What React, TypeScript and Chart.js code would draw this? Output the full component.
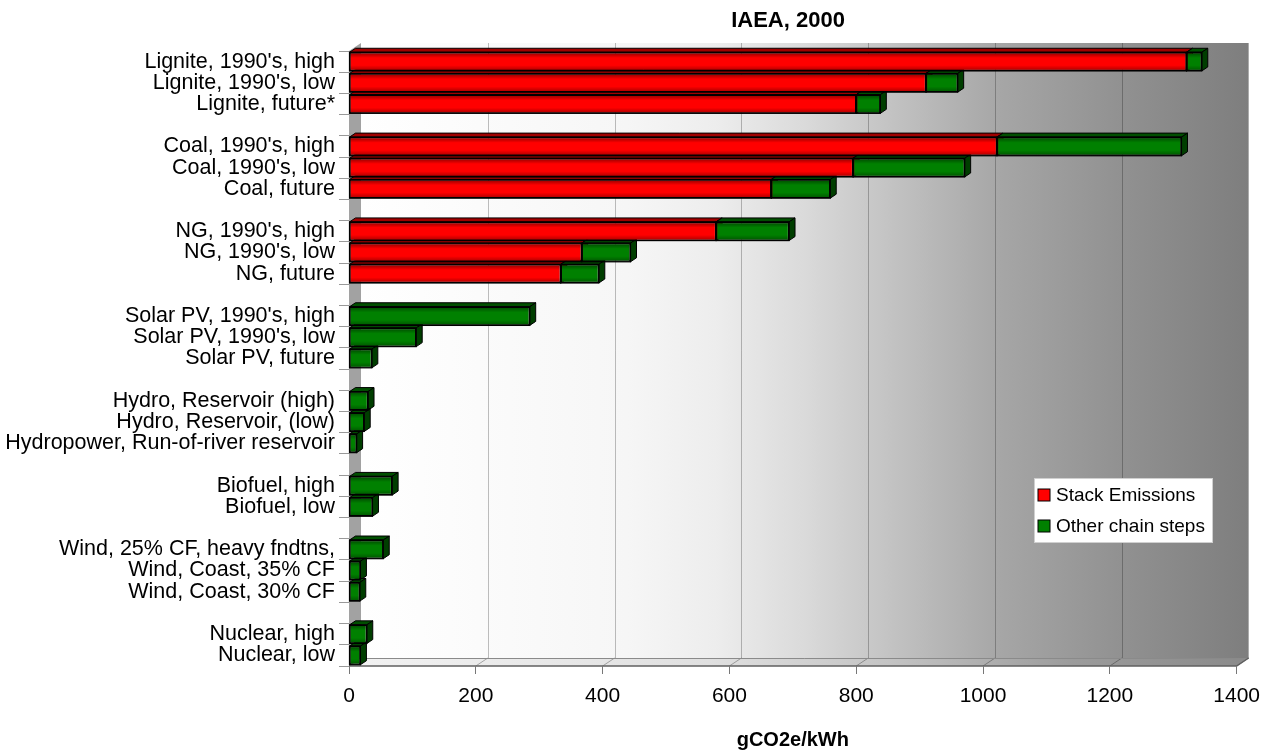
import React, { useEffect, useRef } from "react";
import { Chart, registerables } from "chart.js";

Chart.register(...registerables);

const categories = [
  "Lignite, 1990's, high", "Lignite, 1990's, low", "Lignite, future*", "",
  "Coal, 1990's, high", "Coal, 1990's, low", "Coal, future", "",
  "NG, 1990's, high", "NG, 1990's, low", "NG, future", "",
  "Solar PV, 1990's, high", "Solar PV, 1990's, low", "Solar PV, future", "",
  "Hydro, Reservoir (high)", "Hydro, Reservoir, (low)", "Hydropower, Run-of-river reservoir", "",
  "Biofuel, high", "Biofuel, low", "",
  "Wind, 25% CF, heavy fndtns,", "Wind, Coast, 35% CF", "Wind, Coast, 30% CF", "",
  "Nuclear, high", "Nuclear, low",
];

const stackEmissions = [
  1321, 910, 800, null,
  1022, 795, 666, null,
  579, 367, 334, null,
  null, null, null, null,
  null, null, null, null,
  null, null, null,
  null, null, null, null,
  null, null,
];

const otherChainSteps = [
  24, 50, 38, null,
  291, 176, 93, null,
  115, 77, 60, null,
  285, 106, 36, null,
  30, 24, 12, null,
  68, 37, null,
  54, 18, 17, null,
  28, 18,
];

const seriesNames = ["Stack Emissions", "Other chain steps"];
const xTicks = [0, 200, 400, 600, 800, 1000, 1200, 1400];
const chartTitle = "IAEA, 2000";
const xTitle = "gCO2e/kWh";

const FONT = "'Liberation Sans', Arial, sans-serif";
const RED = "#ff0000";
const GREEN = "#008000";
const TOP_COL = ["#a00000", "#004f00"];
const CAP_COL = ["#8a0000", "#003e00"];
const DX = 6, DY = -4;
const BX = 12, BY = -8;

const box3d = {
  id: "box3d",
  beforeDraw(chart: any) {
    const { ctx, chartArea } = chart;
    const { left, right, top, bottom } = chartArea;
    const xs = chart.scales.x;
    ctx.save();
    const g = ctx.createLinearGradient(left + BX, 0, right + BX, 0);
    g.addColorStop(0, "#ffffff");
    g.addColorStop(0.3, "#f6f6f6");
    g.addColorStop(0.4, "#ededed");
    g.addColorStop(0.5, "#dadada");
    g.addColorStop(0.6, "#c2c2c2");
    g.addColorStop(0.72, "#a6a6a6");
    g.addColorStop(0.85, "#929292");
    g.addColorStop(1, "#7e7e7e");
    ctx.fillStyle = g;
    ctx.fillRect(left + BX, top + BY, right - left, bottom - top);
    ctx.lineWidth = 1;
    ctx.strokeStyle = "rgba(0,0,0,0.25)";
    for (const v of xTicks) {
      if (v === 0 || v === 1400) continue;
      const px = Math.round(xs.getPixelForValue(v) + BX) + 0.5;
      ctx.beginPath();
      ctx.moveTo(px, top + BY);
      ctx.lineTo(px, bottom + BY);
      ctx.stroke();
    }
    ctx.fillStyle = "#a2a2a2";
    ctx.beginPath();
    ctx.moveTo(left, top);
    ctx.lineTo(left + BX, top + BY);
    ctx.lineTo(left + BX, bottom + BY);
    ctx.lineTo(left, bottom);
    ctx.closePath();
    ctx.fill();
    const fg = ctx.createLinearGradient(left, 0, right + BX, 0);
    fg.addColorStop(0, "#f2f2f2");
    fg.addColorStop(0.4, "#e0e0e0");
    fg.addColorStop(0.6, "#c4c4c4");
    fg.addColorStop(0.8, "#9c9c9c");
    fg.addColorStop(1, "#8a8a8a");
    ctx.fillStyle = fg;
    ctx.beginPath();
    ctx.moveTo(left, bottom);
    ctx.lineTo(right, bottom);
    ctx.lineTo(right + BX, bottom + BY);
    ctx.lineTo(left + BX, bottom + BY);
    ctx.closePath();
    ctx.fill();
    ctx.strokeStyle = "rgba(0,0,0,0.3)";
    for (const v of xTicks) {
      const px = xs.getPixelForValue(v);
      ctx.beginPath();
      ctx.moveTo(px, bottom);
      ctx.lineTo(px + BX, bottom + BY);
      ctx.stroke();
    }
    ctx.strokeStyle = "#8a8a8a";
    ctx.beginPath();
    ctx.moveTo(left + BX, bottom + BY + 0.5);
    ctx.lineTo(right + BX, bottom + BY + 0.5);
    ctx.stroke();
    ctx.strokeStyle = "#606060";
    ctx.lineWidth = 1.5;
    ctx.beginPath();
    ctx.moveTo(left, bottom);
    ctx.lineTo(right, bottom);
    ctx.lineTo(right + BX, bottom + BY);
    ctx.stroke();
    ctx.restore();
  },
  beforeDatasetsDraw(chart: any) {
    const { ctx } = chart;
    const n = chart.data.labels.length;
    ctx.save();
    ctx.lineWidth = 1;
    ctx.strokeStyle = "#000";
    for (let i = 0; i < n; i++) {
      for (let d = 0; d < chart.data.datasets.length; d++) {
        const v = chart.data.datasets[d].data[i];
        if (v === null || v === undefined) continue;
        const el = chart.getDatasetMeta(d).data[i];
        if (!el) continue;
        const { x, y, base, height } = el.getProps(["x", "y", "base", "height"], true);
        const yT = y - height / 2;
        const yB = y + height / 2;
        ctx.fillStyle = TOP_COL[d];
        ctx.beginPath();
        ctx.moveTo(base, yT);
        ctx.lineTo(base + DX, yT + DY);
        ctx.lineTo(x + DX, yT + DY);
        ctx.lineTo(x, yT);
        ctx.closePath();
        ctx.fill();
        ctx.stroke();
        ctx.fillStyle = CAP_COL[d];
        ctx.beginPath();
        ctx.moveTo(x, yT);
        ctx.lineTo(x + DX, yT + DY);
        ctx.lineTo(x + DX, yB + DY);
        ctx.lineTo(x, yB);
        ctx.closePath();
        ctx.fill();
        ctx.stroke();
      }
    }
    ctx.restore();
  },
  afterDatasetsDraw(chart: any) {
    const { ctx } = chart;
    const n = chart.data.labels.length;
    ctx.save();
    for (let d = 0; d < chart.data.datasets.length; d++) {
      for (let i = 0; i < n; i++) {
        const v = chart.data.datasets[d].data[i];
        if (v === null || v === undefined) continue;
        const el = chart.getDatasetMeta(d).data[i];
        const { x, y, base, height } = el.getProps(["x", "y", "base", "height"], true);
        const yT = y - height / 2;
        const g = ctx.createLinearGradient(0, yT, 0, yT + height);
        g.addColorStop(0, "rgba(0,0,0,0.45)");
        g.addColorStop(0.3, "rgba(0,0,0,0)");
        g.addColorStop(0.7, "rgba(0,0,0,0)");
        g.addColorStop(1, "rgba(0,0,0,0.35)");
        ctx.fillStyle = g;
        ctx.fillRect(base, yT, x - base, height);
        ctx.strokeStyle = "#000";
        ctx.lineWidth = 1.2;
        ctx.strokeRect(base, yT, x - base, height);
      }
    }
    ctx.restore();
  },
  afterDraw(chart: any) {
    const { ctx } = chart;
    ctx.save();
    ctx.fillStyle = "#000";
    ctx.font = `bold 22px ${FONT}`;
    ctx.textAlign = "center";
    ctx.textBaseline = "middle";
    ctx.fillText(chartTitle, 788, 21);
    const lx = 1034, ly = 478, lw = 178, lh = 64;
    ctx.fillStyle = "#ffffff";
    ctx.fillRect(lx, ly, lw, lh);
    ctx.strokeStyle = "#d0d0d0";
    ctx.lineWidth = 1;
    ctx.strokeRect(lx + 0.5, ly + 0.5, lw, lh);
    const cols = [RED, GREEN];
    const ys = [495, 526];
    ctx.font = `19px ${FONT}`;
    ctx.textAlign = "left";
    for (let k = 0; k < 2; k++) {
      ctx.fillStyle = cols[k];
      ctx.fillRect(lx + 4, ys[k] - 6, 12, 12);
      ctx.strokeStyle = "#000";
      ctx.strokeRect(lx + 4, ys[k] - 6, 12, 12);
      ctx.fillStyle = "#000";
      ctx.fillText(seriesNames[k], lx + 22, ys[k] + 1);
    }
    ctx.restore();
  },
};

export default function App() {
  const ref = useRef<HTMLCanvasElement | null>(null);
  useEffect(() => {
    document.body.style.margin = "0";
    Chart.defaults.font.family = FONT;
    const canvas = ref.current!;
    const chart = new Chart(canvas, {
      type: "bar",
      data: {
        labels: categories,
        datasets: [
          {
            label: seriesNames[0],
            data: stackEmissions as any,
            backgroundColor: RED,
            borderColor: "#000",
            borderWidth: 1.2,
            borderSkipped: false,
            barPercentage: 0.88,
            categoryPercentage: 1,
          },
          {
            label: seriesNames[1],
            data: otherChainSteps as any,
            backgroundColor: GREEN,
            borderColor: "#000",
            borderWidth: 1.2,
            borderSkipped: false,
            barPercentage: 0.88,
            categoryPercentage: 1,
          },
        ],
      },
      options: {
        indexAxis: "y",
        responsive: false,
        animation: false,
        devicePixelRatio: 1,
        layout: { padding: { left: 0, right: 32, top: 51, bottom: 0 } },
        plugins: {
          legend: { display: false },
          title: { display: false },
          tooltip: { enabled: false },
        },
        scales: {
          x: {
            stacked: true,
            min: 0,
            max: 1400,
            afterBuildTicks(s: any) {
              s.ticks = xTicks.map((v) => ({ value: v }));
            },
            ticks: {
              font: { size: 21 },
              color: "#000",
              padding: 10,
              maxRotation: 0,
              callback: (v: any) => String(v),
            },
            grid: { drawOnChartArea: false, tickLength: 8, color: "#777" },
            border: { display: false },
            title: {
              display: true,
              text: xTitle,
              color: "#000",
              font: { size: 20, weight: "bold" },
              padding: { top: 0, bottom: 0 },
            },
            afterFit(s: any) {
              s.height = 86;
            },
          },
          y: {
            stacked: true,
            ticks: { autoSkip: false, font: { size: 21.5 }, color: "#000", padding: 4 },
            grid: { drawOnChartArea: false, offset: true, tickLength: 10, color: "#999" },
            border: { display: false },
            afterFit(s: any) {
              s.width = 349;
            },
          },
        },
      },
      plugins: [box3d],
    });
    return () => chart.destroy();
  }, []);
  return (
    <div style={{ width: 1270, height: 752 }}>
      <canvas ref={ref} width={1270} height={752} />
    </div>
  );
}
